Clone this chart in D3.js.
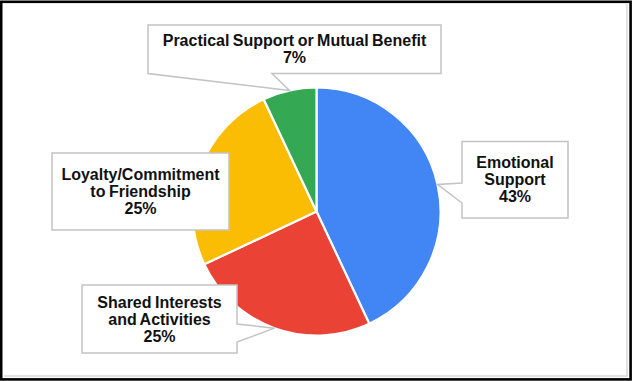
<!DOCTYPE html>
<html>
<head>
<meta charset="utf-8">
<script src="https://cdn.jsdelivr.net/npm/d3@7"></script>
<style>
  body { margin: 0; background: #fff; }
  #chart { width: 632px; height: 381px; }
  .callout text { font-family: "Liberation Sans", Arial, sans-serif; font-weight: bold; font-size: 16px; word-spacing: -1px; fill: #111; }
</style>
</head>
<body>
<div id="chart"></div>
<script>
// data
const categories = ["Emotional Support", "Shared Interests and Activities", "Loyalty/Commitment to Friendship", "Practical Support or Mutual Benefit"];
const values = [43, 25, 25, 7];
const colors = ["#4285F4", "#EA4335", "#FBBC04", "#34A853"];
const labelLines = [["Emotional", "Support"], ["Shared Interests", "and Activities"], ["Loyalty/Commitment", "to Friendship"], ["Practical Support or Mutual Benefit"]];

// callout box layout (x, y, w, h, side the pointer leaves from, pointer base span)
const boxes = [
    {x: 462, y: 141.5, w: 106, h: 76.5, side: "left", b0: 183, b1: 203},
    {x: 82, y: 285, w: 155, h: 68, side: "right", b0: 324, b1: 342},
    {x: 52, y: 153, w: 177, h: 77, side: null},
    {x: 148, y: 25, w: 293, h: 48.5, side: "bottom", b0: 148, b1: 272}
];

const width = 632;
const height = 381;
const cx = 316.5, cy = 211.5, radius = 124;

const svg = d3.select("#chart")
    .append("svg")
    .attr("width", width)
    .attr("height", height);

/*
FRAME
*/
svg.append("path")
    .attr("d", `M${width-5},4 V${height-5} H4`)
    .attr("fill", "none")
    .attr("stroke", "#d9d9d9")
    .attr("stroke-width", 1.5);

svg.append("rect")
    .attr("x", 1.2).attr("y", 1.8)
    .attr("width", width - 2.6).attr("height", height - 3.4)
    .attr("fill", "none")
    .attr("stroke", "#000")
    .attr("stroke-width", 2.6);

/*
PIE
*/
const table = categories.map((c, i) => ({name: c, value: values[i], color: colors[i], lines: labelLines[i], box: boxes[i]}));

const pie = d3.pie()
    .value(d => d.value)
    .sort(null);

const arc = d3.arc()
    .innerRadius(0)
    .outerRadius(radius);

const arcs = pie(table);

const g = svg.append("g")
    .attr("transform", `translate(${cx},${cy})`);

g.selectAll("path")
    .data(arcs)
    .enter()
    .append("path")
    .attr("d", arc)
    .attr("fill", d => d.data.color)
    .attr("stroke", "#fff")
    .attr("stroke-width", 2.2)
    .attr("stroke-linejoin", "round");

/*
CALLOUTS
*/
const total = d3.sum(values);

function calloutPath(b, tip) {
    const x0 = b.x, y0 = b.y, x1 = b.x + b.w, y1 = b.y + b.h;
    const p = [[x0, y0], [x1, y0]];
    if (b.side === "right") {
        p.push([x1, b.b0], tip, [x1, b.b1]);
    }
    p.push([x1, y1]);
    if (b.side === "bottom") {
        p.push([b.b1, y1], tip, [b.b0, y1]);
    }
    p.push([x0, y1]);
    if (b.side === "left") {
        p.push([x0, b.b1], tip, [x0, b.b0]);
    }
    return "M" + p.map(q => q.join(",")).join("L") + "Z";
}

const callouts = svg.selectAll(".callout")
    .data(arcs)
    .enter()
    .append("g")
    .attr("class", "callout");

callouts.append("path")
    .attr("d", d => {
        const mid = (d.startAngle + d.endAngle) / 2;
        const tip = [cx + radius * Math.sin(mid), cy - radius * Math.cos(mid)];
        return calloutPath(d.data.box, tip);
    })
    .attr("fill", "#fff")
    .attr("stroke", "#c3c3c3")
    .attr("stroke-width", 1.5);

const lh = 17;
callouts.append("text")
    .attr("text-anchor", "middle")
    .each(function(d) {
        const b = d.data.box;
        const lines = d.data.lines.concat([Math.round(d.value / total * 100) + "%"]);
        const first = b.y + b.h / 2 - (lines.length - 1) * lh / 2 + 5.6;
        d3.select(this).selectAll("tspan")
            .data(lines)
            .enter()
            .append("tspan")
            .attr("x", b.x + b.w / 2)
            .attr("y", (t, i) => first + i * lh)
            .text(t => t);
    });
</script>
</body>
</html>
